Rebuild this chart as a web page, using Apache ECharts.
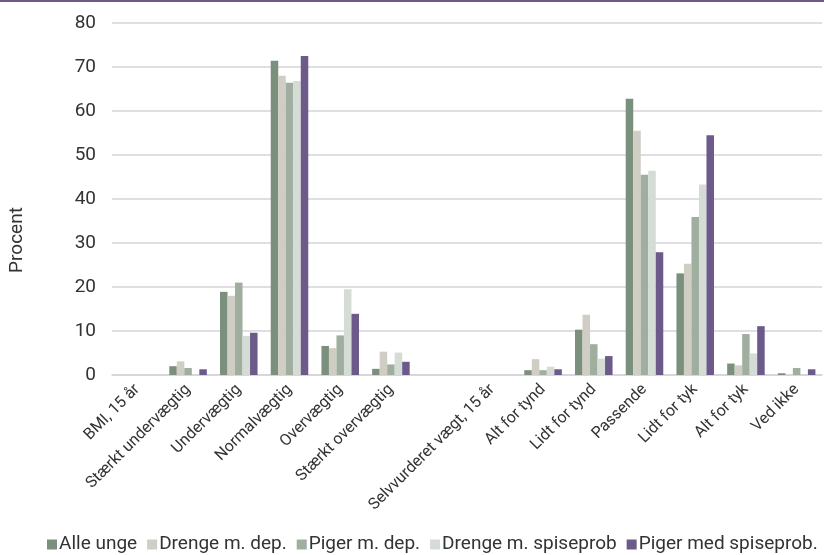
<!DOCTYPE html>
<html>
<head>
<meta charset="utf-8">
<script src="https://cdn.jsdelivr.net/npm/echarts@6/dist/echarts.min.js"></script>
<style>html,body{margin:0;padding:0;background:#fff}#c{width:824px;height:555px}</style>
</head>
<body>
<div id="c"></div>
<script>
const categories = ["BMI, 15 år","Stærkt undervægtig","Undervægtig","Normalvægtig","Overvægtig","Stærkt overvægtig","","Selvvurderet vægt, 15 år","Alt for tynd","Lidt for tynd","Passende","Lidt for tyk","Alt for tyk","Ved ikke"];
const seriesNames = ["Alle unge","Drenge m. dep.","Piger m. dep.","Drenge m. spiseprob","Piger med spiseprob."];
const alleUnge        = [null, 2.0, 18.9, 71.4, 6.6, 1.4, null, null, 1.1, 10.3, 62.8, 23.1, 2.6, 0.4];
const drengeDep       = [null, 3.1, 18.0, 68.0, 6.1, 5.3, null, null, 3.6, 13.7, 55.5, 25.3, 2.2, 0];
const pigerDep        = [null, 1.6, 21.0, 66.4, 9.0, 2.4, null, null, 1.1, 7.0, 45.5, 35.9, 9.3, 1.6];
const drengeSpise     = [null, 0,   8.9, 66.8, 19.5, 5.1, null, null, 1.9, 3.7, 46.4, 43.3, 4.9, 0];
const pigerSpise      = [null, 1.3, 9.6, 72.5, 13.9, 3.0, null, null, 1.3, 4.3, 27.9, 54.5, 11.1, 1.3];
const yTicks = [0, 10, 20, 30, 40, 50, 60, 70, 80];

const colors = ["#7b8f7d","#d0cdc4","#9fae9e","#d5dbd5","#6b5a8a"];
const allData = [alleUnge, drengeDep, pigerDep, drengeSpise, pigerSpise];
const font = "Roboto, 'Open Sans', sans-serif";

const chart = echarts.init(document.getElementById('c'));
chart.setOption({
  animation: false,
  color: colors,
  grid: { left: 112, right: 2, top: 23, bottom: 180, containLabel: false },
  graphic: [
    { type: 'rect', left: 0, top: 0, shape: { width: 824, height: 2 }, style: { fill: '#6b5a8a' } },
    { type: 'text', x: 17, y: 240, rotation: Math.PI / 2,
      style: { text: 'Procent', font: '19px ' + font, fill: '#333', align: 'center', verticalAlign: 'middle' } }
  ],
  legend: {
    top: 530, left: 47, padding: [5, 0, 5, 0],
    itemWidth: 10, itemHeight: 10, itemGap: 10,
    icon: 'rect',
    textStyle: { fontFamily: font, fontSize: 19, color: '#333', padding: [0, 0, 0, -3] },
    data: seriesNames
  },
  xAxis: {
    type: 'category', data: categories,
    axisLine: { show: true, lineStyle: { color: '#d3d3da', width: 1.5 } },
    axisTick: { show: false },
    axisLabel: { interval: 0, rotate: 45, fontFamily: font, fontSize: 16, color: '#333', margin: 12 }
  },
  yAxis: {
    type: 'value', min: 0, max: 80, interval: 10,
    axisLine: { show: false }, axisTick: { show: false },
    splitLine: { lineStyle: { color: '#d3d3da', width: 1.5 } },
    axisLabel: { fontFamily: font, fontSize: 19, color: '#333', margin: 16,
      formatter: v => yTicks.includes(v) ? String(v) : '' }
  },
  series: seriesNames.map((n, i) => ({
    name: n, type: 'bar', data: allData[i],
    barGap: '0%', barCategoryGap: '26%',
    itemStyle: { color: colors[i] }
  }))
});
</script>
</body>
</html>
